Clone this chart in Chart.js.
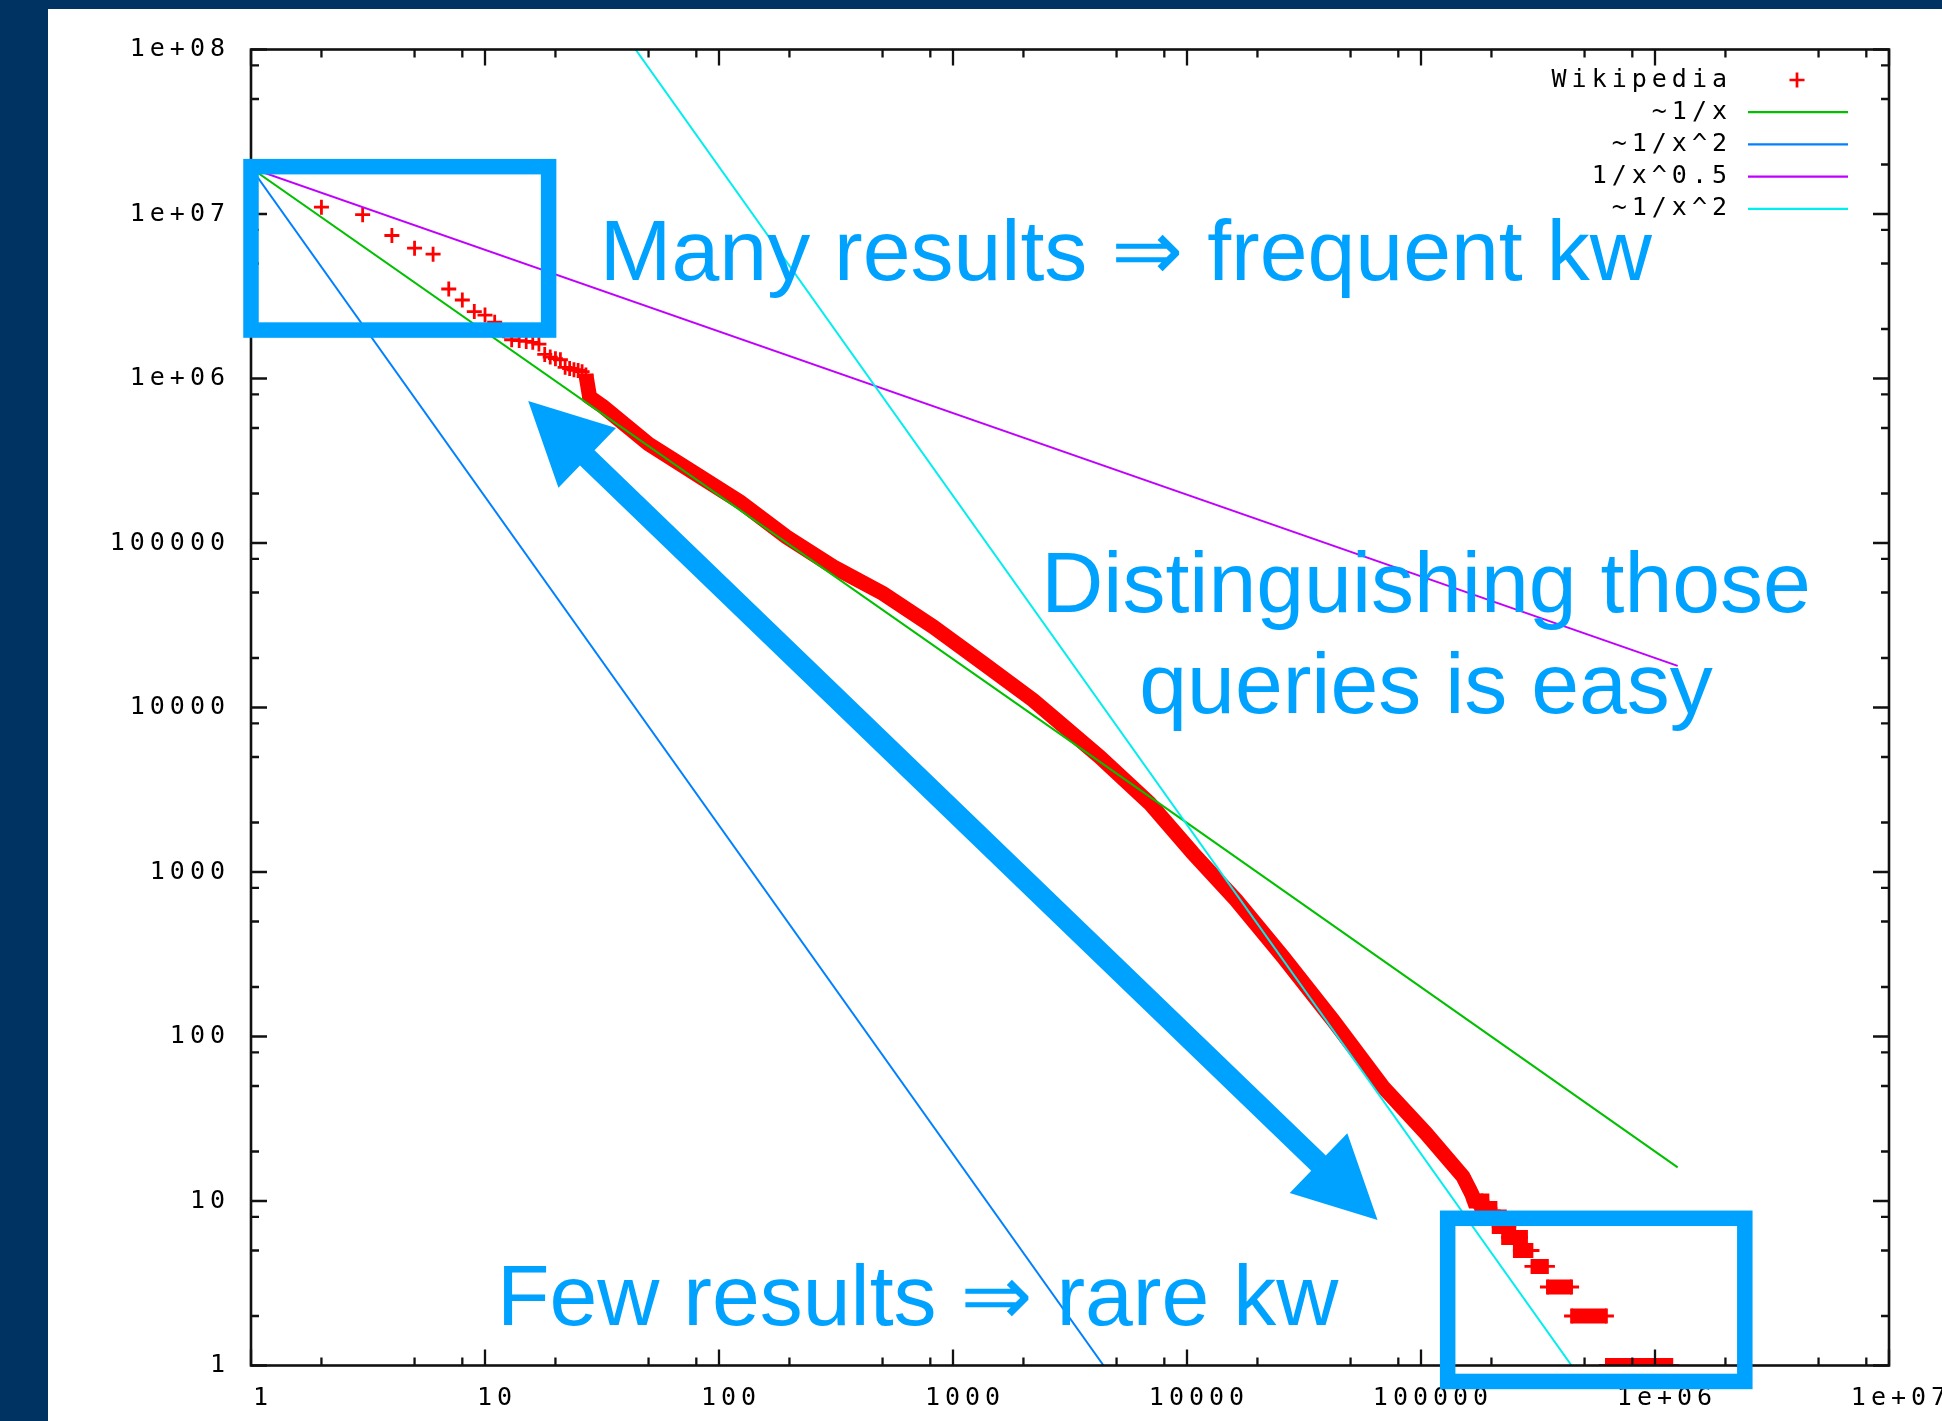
<!DOCTYPE html>
<html lang="en">
<head>
<meta charset="utf-8">
<title>Wikipedia: resultados por palabra clave</title>
<script src="https://cdn.jsdelivr.net/npm/chart.js@4.4.1/dist/chart.umd.min.js"></script>
<style>
  html, body { margin: 0; padding: 0; background: #003361; overflow: hidden; }
  #lienzo { display: block; }
</style>
</head>
<body>
<canvas id="lienzo" width="1942" height="1421"></canvas>
<script>
// Rango de la palabra clave (x) frente a número de resultados (y).
const rangosWikipedia = [
  1, 2, 3, 4, 5, 6, 7, 8, 9, 10,
  11, 12, 13, 14, 15, 16, 17, 18, 19, 20,
  21, 22, 23, 24, 25, 26, 27, 28, 32, 50,
  83, 123, 194, 307, 502, 822, 1343, 2197, 2766, 4233,
  6920, 10600, 16200, 25700, 42000, 68700, 105000, 151000, 160000, 165000,
  169000, 182000, 182000, 197000, 197000, 216000, 216000, 237000, 237000, 266000,
  266000, 298000, 298000, 347000, 347000, 440000, 440000, 620000, 620000, 1180000
];
const resultadosWikipedia = [
  1.9e7, 1.1e7, 9.9e6, 7.4e6, 6.2e6, 5.7e6, 3.5e6, 3.0e6, 2.55e6, 2.43e6,
  2.2e6, 1.95e6, 1.72e6, 1.7e6, 1.68e6, 1.66e6, 1.62e6, 1.4e6, 1.35e6, 1.32e6,
  1.3e6, 1.17e6, 1.15e6, 1.13e6, 1.12e6, 1.1e6, 1.05e6, 7.7e5, 6.74e5, 4.0e5,
  2.53e5, 1.78e5, 1.09e5, 7.18e4, 4.94e4, 3.1e4, 1.86e4, 1.11e4, 8.4e3, 5.02e3,
  2.62e3, 1.3e3, 676, 305, 126, 49.5, 25.8, 14.1, 12, 11,
  10, 10, 9, 9, 8, 8, 7, 7, 6, 6,
  5, 5, 4, 4, 3, 3, 2, 2, 1, 1
];

// Rectas de ajuste (extremos)
const xInversa = [1, 6920, 1250000];
const yInversa = [1.9e7, 2870, 16];
const xCuadrado = [1, 4400];
const yCuadrado = [1.9e7, 1];
const xRaiz = [1, 1250000];
const yRaiz = [1.9e7, 17900];
const xCuadrado2 = [44, 440000];
const yCuadrado2 = [1e8, 1];

const nombresSeries = ['Wikipedia', '~1/x', '~1/x^2', '1/x^0.5', '~1/x^2'];
const coloresSeries = ['#ff0000', '#00c000', '#0080ff', '#c000ff', '#00eeee'];

// Marcas de los ejes
const marcasX = [1, 10, 100, 1000, 10000, 100000, 1e6, 1e7];
const etiquetasX = ['1', '10', '100', '1000', '10000', '100000', '1e+06', '1e+07'];
const marcasY = [1, 10, 100, 1000, 10000, 100000, 1e6, 1e7, 1e8];
const etiquetasY = ['1', '10', '100', '1000', '10000', '100000', '1e+06', '1e+07', '1e+08'];
const multiplosMenores = [2, 5, 8];

// Anotaciones de la diapositiva (en coordenadas de datos)
const recuadros = [
  { x: [1, 18.7], y: [1.94e7, 1.97e6] },
  { x: [1.3e5, 2.42e6], y: [7.85, 0.8] }
];
const flecha = { desde: [15.3, 7.3e5], hasta: [6.52e4, 7.66] };
const textos = [
  { lineas: ['Many results \u21d2 frequent kw'], x: 30.96, y: 3.97e6, alinear: 'left' },
  { lineas: ['Distinguishing those', 'queries is easy'], x: 1.051e5, y: 3.823e4, alinear: 'center' },
  { lineas: ['Few results \u21d2 rare kw'], x: 11.24, y: 1.763, alinear: 'left' }
];

const azul = '#00a2ff';
const fuenteGnuplot = '25px "DejaVu Sans Mono", monospace';

const puntos = (xs, ys) => xs.map((x, i) => ({ x, y: ys[i] }));

const recta = (indice, xs, ys, orden) => ({
  label: nombresSeries[indice],
  data: puntos(xs, ys),
  showLine: true,
  borderColor: coloresSeries[indice],
  borderWidth: 2,
  pointRadius: 0,
  tension: 0,
  order: orden
});

const dibujarMarco = (chart) => {
  const { ctx, chartArea: a, scales } = chart;
  ctx.save();
  ctx.strokeStyle = '#111';
  ctx.lineWidth = 2.6;
  ctx.strokeRect(a.left, a.top, a.right - a.left, a.bottom - a.top);
  ctx.lineWidth = 2.3;
  ctx.beginPath();
  const marcar = (marcas, eje, alLado) => {
    marcas.forEach((v, i) => {
      const valores = [[v, 16]];
      if (i < marcas.length - 1) multiplosMenores.forEach(m => valores.push([v * m, 8]));
      valores.forEach(([valor, largo]) => alLado(eje.getPixelForValue(valor), largo));
    });
  };
  marcar(marcasX, scales.x, (p, largo) => {
    ctx.moveTo(p, a.bottom); ctx.lineTo(p, a.bottom - largo);
    ctx.moveTo(p, a.top); ctx.lineTo(p, a.top + largo);
  });
  marcar(marcasY, scales.y, (p, largo) => {
    ctx.moveTo(a.left, p); ctx.lineTo(a.left + largo, p);
    ctx.moveTo(a.right, p); ctx.lineTo(a.right - largo, p);
  });
  ctx.stroke();
  ctx.restore();
};

const dibujarLeyenda = (chart) => {
  const { ctx, chartArea: a } = chart;
  ctx.save();
  ctx.font = fuenteGnuplot;
  ctx.letterSpacing = '5px';
  ctx.textAlign = 'right';
  ctx.textBaseline = 'middle';
  chart.data.datasets.forEach((ds, i) => {
    const y = a.top + 30.5 + i * 32.2;
    ctx.fillStyle = '#000';
    ctx.fillText(ds.label, a.right - 157, y);
    ctx.strokeStyle = ds.borderColor;
    ctx.beginPath();
    if (ds.pointStyle === 'cross') {
      const cx = a.right - 92;
      ctx.lineWidth = 2.7;
      ctx.moveTo(cx - 7.5, y); ctx.lineTo(cx + 7.5, y);
      ctx.moveTo(cx, y - 7.5); ctx.lineTo(cx, y + 7.5);
    } else {
      ctx.lineWidth = 2.2;
      ctx.moveTo(a.right - 141, y); ctx.lineTo(a.right - 41, y);
    }
    ctx.stroke();
  });
  ctx.restore();
};

const dibujarAnotaciones = (chart) => {
  const { ctx } = chart;
  const sx = chart.scales.x, sy = chart.scales.y;
  const p = (x, y) => [sx.getPixelForValue(x), sy.getPixelForValue(y)];
  ctx.save();
  ctx.letterSpacing = '0px';
  ctx.strokeStyle = azul;
  ctx.fillStyle = azul;
  ctx.lineWidth = 15.5;
  ctx.lineJoin = 'miter';
  recuadros.forEach(r => {
    const [x0, y0] = p(r.x[0], r.y[0]);
    const [x1, y1] = p(r.x[1], r.y[1]);
    ctx.strokeRect(x0, y0, x1 - x0, y1 - y0);
  });

  // Flecha de doble punta
  const [ax, ay] = p(flecha.desde[0], flecha.desde[1]);
  const [bx, by] = p(flecha.hasta[0], flecha.hasta[1]);
  const d = Math.hypot(bx - ax, by - ay);
  const ux = (bx - ax) / d, uy = (by - ay) / d, nx = -uy, ny = ux;
  const L = 82, H = 41.5, S = 10.5;
  const contorno = [
    [ax, ay],
    [ax + ux * L + nx * H, ay + uy * L + ny * H],
    [ax + ux * L + nx * S, ay + uy * L + ny * S],
    [bx - ux * L + nx * S, by - uy * L + ny * S],
    [bx - ux * L + nx * H, by - uy * L + ny * H],
    [bx, by],
    [bx - ux * L - nx * H, by - uy * L - ny * H],
    [bx - ux * L - nx * S, by - uy * L - ny * S],
    [ax + ux * L - nx * S, ay + uy * L - ny * S],
    [ax + ux * L - nx * H, ay + uy * L - ny * H]
  ];
  ctx.beginPath();
  contorno.forEach(([x, y], i) => i ? ctx.lineTo(x, y) : ctx.moveTo(x, y));
  ctx.closePath();
  ctx.fill();

  ctx.font = '86px "Liberation Sans", "DejaVu Sans", sans-serif';
  ctx.textBaseline = 'alphabetic';
  textos.forEach(t => {
    const [x, y] = p(t.x, t.y);
    ctx.textAlign = t.alinear;
    t.lineas.forEach((linea, i) => ctx.fillText(linea, x, y + i * 101.6));
  });
  ctx.restore();
};

const decoracion = {
  id: 'decoracion',
  beforeDraw(chart) {
    const { ctx, width, height } = chart;
    ctx.save();
    ctx.fillStyle = '#003361';
    ctx.fillRect(0, 0, width, height);
    ctx.fillStyle = '#ffffff';
    ctx.fillRect(48, 9, width - 48, height - 9);
    ctx.restore();
    ctx.letterSpacing = '5px';
  },
  beforeDatasetsDraw(chart) {
    chart.ctx.letterSpacing = '0px';
  },
  afterDatasetsDraw(chart) {
    dibujarMarco(chart);
    dibujarLeyenda(chart);
  },
  afterDraw(chart) {
    dibujarAnotaciones(chart);
  }
};

const ejeLog = (marcas, etiquetas, min, max) => ({
  type: 'logarithmic',
  min,
  max,
  grid: { display: false },
  border: { display: false },
  afterBuildTicks: (escala) => {
    escala.ticks = marcas.map(value => ({ value }));
  },
  ticks: {
    autoSkip: false,
    maxRotation: 0,
    color: '#000',
    font: { family: 'DejaVu Sans Mono', size: 25 },
    callback: (valor) => {
      const i = marcas.indexOf(valor);
      return i >= 0 ? etiquetas[i] : '';
    }
  }
});

const ejeX = ejeLog(marcasX, etiquetasX, 1, 1e7);
ejeX.ticks.padding = 10;
ejeX.ticks.labelOffset = 12;
ejeX.afterFit = (escala) => {
  escala.height = 55.5;
  escala.paddingLeft = 0;
  escala.paddingRight = 0;
};

const ejeY = ejeLog(marcasY, etiquetasY, 1, 1e8);
ejeY.ticks.padding = 13;
ejeY.afterFit = (escala) => {
  escala.width = 203;
  escala.paddingTop = 0;
  escala.paddingBottom = 0;
};

new Chart(document.getElementById('lienzo').getContext('2d'), {
  type: 'scatter',
  data: {
    datasets: [
      {
        label: nombresSeries[0],
        data: puntos(rangosWikipedia, resultadosWikipedia),
        showLine: true,
        borderColor: coloresSeries[0],
        borderWidth: 15,
        tension: 0,
        pointStyle: 'cross',
        pointRadius: 7.5,
        pointBorderWidth: 2.8,
        pointBorderColor: coloresSeries[0],
        pointBackgroundColor: coloresSeries[0],
        order: 5,
        segment: {
          borderColor: (c) => {
            const y0 = c.p0.parsed.y, y1 = c.p1.parsed.y;
            if (c.p0.parsed.x < 27) return 'rgba(0,0,0,0)';
            if (y0 !== y1 && Math.max(y0, y1) <= 5) return 'rgba(0,0,0,0)';
            return undefined;
          }
        }
      },
      recta(1, xInversa, yInversa, 4),
      recta(2, xCuadrado, yCuadrado, 3),
      recta(3, xRaiz, yRaiz, 2),
      recta(4, xCuadrado2, yCuadrado2, 1)
    ]
  },
  options: {
    responsive: false,
    animation: false,
    devicePixelRatio: 1,
    layout: { padding: { left: 48, right: 53, top: 49.5, bottom: 0 } },
    plugins: {
      legend: { display: false },
      tooltip: { enabled: false }
    },
    scales: { x: ejeX, y: ejeY }
  },
  plugins: [decoracion]
});
</script>
</body>
</html>
